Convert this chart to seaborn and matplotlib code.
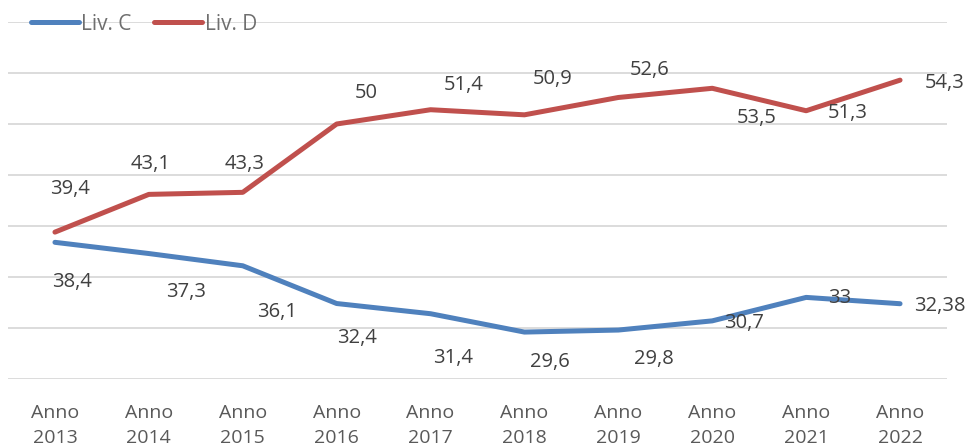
import numpy as np
import pandas as pd
import matplotlib
matplotlib.use("Agg")
import matplotlib.pyplot as plt
import seaborn as sns
from matplotlib.lines import Line2D

years = ["2013", "2014", "2015", "2016", "2017", "2018", "2019", "2020", "2021", "2022"]
liv_c = [38.4, 37.3, 36.1, 32.4, 31.4, 29.6, 29.8, 30.7, 33.0, 32.38]
liv_d = [39.4, 43.1, 43.3, 50.0, 51.4, 50.9, 52.6, 53.5, 51.3, 54.3]
labels_c = ["38,4", "37,3", "36,1", "32,4", "31,4", "29,6", "29,8", "30,7", "33", "32,38"]
labels_d = ["39,4", "43,1", "43,3", "50", "51,4", "50,9", "52,6", "53,5", "51,3", "54,3"]
tick_labels = ["Anno\n" + y for y in years]

sns.set_theme(style="white")
plt.rcParams['font.family'] = ['Open Sans', 'DejaVu Sans']

df = pd.DataFrame({
    "idx": list(range(len(years))) * 2,
    "val": liv_c + liv_d,
    "serie": ["Liv. C"] * len(years) + ["Liv. D"] * len(years),
})

fig = plt.figure(figsize=(9.7, 4.46), dpi=100)
ax = fig.add_axes([8/970, 67/446, 939/970, 357/446])

palette = {"Liv. C": "#4F81BD", "Liv. D": "#C0504D"}
sns.lineplot(data=df, x="idx", y="val", hue="serie", palette=palette,
             linewidth=3.6, ax=ax, legend=False, zorder=3)

ax.set_xlim(-0.5, 9.5)
ax.set_ylim(25, 60)
ax.set_yticks(np.arange(25, 61, 5))
ax.yaxis.grid(True, color="#d9d9d9", linewidth=1.3, zorder=0)
ax.xaxis.grid(False)
for s in ax.spines.values():
    s.set_visible(False)
ax.set_yticklabels([])
ax.tick_params(axis="y", length=0)
ax.set_xticks(range(len(years)))
ax.set_xticklabels(tick_labels, fontsize=14, color="#595959", linespacing=1.5)
ax.tick_params(axis="x", length=0, pad=18)
ax.set_xlabel("")
ax.set_ylabel("")

# label offsets in pixels (dx, dy) relative to the point
off_d = [(15, 43), (2, 30), (2, 28), (30, 31), (33, 25), (28, 36), (31, 27), (44, -30), (42, -2), (45, -3)]
off_c = [(17, -40), (37, -38), (34, -46), (20, -34), (23, -44), (25, -30), (36, -29), (32, -2), (34, -1), (40, -2)]
for i in range(len(years)):
    ax.annotate(labels_d[i], (i, liv_d[i]), xytext=off_d[i], textcoords="offset pixels",
                ha="center", va="center", fontsize=14.5, color="#404040", zorder=5)
    ax.annotate(labels_c[i], (i, liv_c[i]), xytext=off_c[i], textcoords="offset pixels",
                ha="center", va="center", fontsize=14.5, color="#404040", zorder=5)

handles = [Line2D([], [], color=palette["Liv. C"], linewidth=3.6, solid_capstyle="round"),
           Line2D([], [], color=palette["Liv. D"], linewidth=3.6, solid_capstyle="round")]
leg = fig.legend(handles, ["Liv. C", "Liv. D"], loc="center left", bbox_to_anchor=(12/970, 1 - 24/446),
                 ncol=2, frameon=False, fontsize=15, handlelength=2.3, handletextpad=0.12,
                 columnspacing=1.1, labelcolor="#6f6f6f")

fig.savefig("out.png", dpi=100)
